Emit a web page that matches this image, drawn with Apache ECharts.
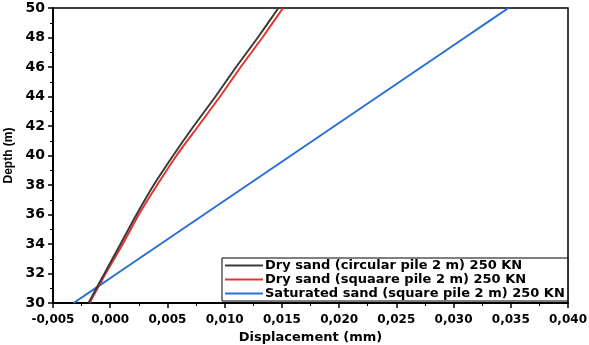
<!DOCTYPE html>
<html>
<head>
<meta charset="utf-8">
<script src="https://cdn.jsdelivr.net/npm/echarts@6/dist/echarts.min.js"></script>
<style>
html,body{margin:0;padding:0;background:#fff;}
#chart{width:589px;height:345px;}
</style>
</head>
<body>
<div id="chart"></div>
<script>
// Data
const depths = [30, 32, 34, 36, 38, 40, 42, 44, 46, 48, 50];
const dryCircular = [-0.0019, -0.0005, 0.0009, 0.0023, 0.0038, 0.0055, 0.0073, 0.0092, 0.0110, 0.0129, 0.0147];
const drySquare   = [-0.0018, -0.0004, 0.0011, 0.0025, 0.0041, 0.0058, 0.0077, 0.0096, 0.0114, 0.0133, 0.0151];
const saturatedSquare = [-0.0032, 0.0006, 0.0044, 0.0082, 0.0120, 0.0158, 0.0196, 0.0234, 0.0272, 0.0310, 0.0348];
const seriesNames = [
  'Dry sand (circular pile 2 m) 250 KN',
  'Dry sand (squaare pile 2 m) 250 KN',
  'Saturated sand (square pile 2 m) 250 KN'
];
const seriesColors = ['#3a3a3a', '#e23431', '#2b6fd6'];
const xTicks = {min: -0.005, max: 0.04, step: 0.005};
const yTicks = {min: 30, max: 50, step: 2};

const FONT = '"DejaVu Sans", sans-serif';
const FONT_NARROW = '"Liberation Sans", Arial, sans-serif';
const allValues = [dryCircular, drySquare, saturatedSquare];

const chart = echarts.init(document.getElementById('chart'), null, {renderer: 'canvas'});
const series = allValues.map((vals, i) => ({
  name: seriesNames[i],
  type: 'line',
  data: vals.map((v, k) => [v, depths[k]]),
  showSymbol: false,
  symbol: 'none',
  smooth: 0.2,
  lineStyle: {color: seriesColors[i], width: 2},
  itemStyle: {color: seriesColors[i]},
  z: 5 - i
}));

chart.setOption({
  animation: false,
  backgroundColor: '#fff',
  grid: {left: 53, right: 21, top: 8, bottom: 42, containLabel: false, outerBoundsMode: 'none',
         show: true, borderColor: '#000', borderWidth: 1.5, backgroundColor: 'transparent'},
  legend: {
    orient: 'vertical',
    left: 222, top: 258,
    backgroundColor: '#fff',
    borderColor: '#000', borderWidth: 1,
    padding: [1, 3, 1, 3],
    itemGap: 1,
    itemWidth: 38, itemHeight: 2,
    icon: 'rect',
    textStyle: {fontFamily: FONT, fontWeight: 'bold', fontSize: 13, color: '#000', padding: [0, 0, 0, -3], lineHeight: 13},
    data: seriesNames
  },
  xAxis: {
    type: 'value',
    min: xTicks.min, max: xTicks.max, interval: xTicks.step,
    name: 'Displacement (mm)',
    nameLocation: 'middle',
    nameGap: 22,
    nameTextStyle: {fontFamily: FONT, fontWeight: 'bold', fontSize: 13, color: '#000'},
    axisLine: {show: true, onZero: false, lineStyle: {color: '#000', width: 2}},
    axisTick: {show: true, length: 5, inside: false, lineStyle: {color: '#000', width: 1.5}},
    minorTick: {show: true, splitNumber: 2, length: 3, lineStyle: {color: '#000', width: 1}},
    splitLine: {show: false},
    axisLabel: {
      fontFamily: FONT, fontWeight: 'bold', fontSize: 12, color: '#000', margin: 11,
      formatter: v => v.toFixed(3).replace('.', ',')
    }
  },
  yAxis: {
    type: 'value',
    min: yTicks.min, max: yTicks.max, interval: yTicks.step,
    name: 'Depth (m)',
    nameLocation: 'middle',
    nameGap: 37,
    nameRotate: 90,
    nameTextStyle: {fontFamily: FONT_NARROW, fontWeight: 'bold', fontSize: 12, color: '#000'},
    axisLine: {show: true, onZero: false, lineStyle: {color: '#000', width: 2}},
    axisTick: {show: true, length: 5, inside: false, lineStyle: {color: '#000', width: 1.5}},
    minorTick: {show: true, splitNumber: 2, length: 3, lineStyle: {color: '#000', width: 1}},
    splitLine: {show: false},
    axisLabel: {fontFamily: FONT, fontWeight: 'bold', fontSize: 14, color: '#000', margin: 8}
  },
  series: series
});
</script>
</body>
</html>
